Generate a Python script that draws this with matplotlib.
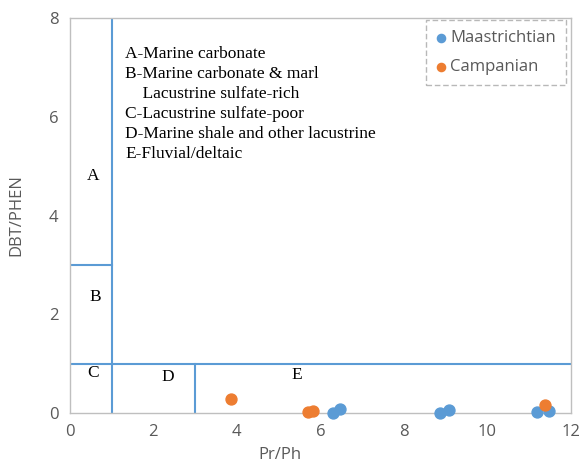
import numpy as np
import matplotlib.pyplot as plt

# data
maas_x = [6.31, 6.48, 8.86, 9.09, 11.18, 11.47]
maas_y = [0.01, 0.09, 0.00, 0.06, 0.02, 0.04]
camp_x = [3.85, 5.71, 5.83, 11.38]
camp_y = [0.28, 0.02, 0.04, 0.16]

zone_letters = ["A", "B", "C", "D", "E"]
zone_x = [0.55, 0.62, 0.55, 2.35, 5.43]
zone_y = [4.8, 2.35, 0.81, 0.73, 0.77]

notes = ("A-Marine carbonate\n"
         "B-Marine carbonate & marl\n"
         "    Lacustrine sulfate-rich\n"
         "C-Lacustrine sulfate-poor\n"
         "D-Marine shale and other lacustrine\n"
         "E-Fluvial/deltaic")

blue = "#5B9BD5"
orange = "#ED7D31"
grey = "#595959"

fig = plt.figure(figsize=(5.82, 4.62), dpi=100)
ax = fig.add_axes([0.120, 0.106, 0.861, 0.855])

# zone boundaries
ax.plot([1, 1], [0, 8], color=blue, lw=1.5, zorder=1)
ax.plot([0, 1], [3, 3], color=blue, lw=1.5, zorder=1)
ax.plot([0, 12], [1, 1], color=blue, lw=1.5, zorder=1)
ax.plot([3, 3], [0, 1], color=blue, lw=1.5, zorder=1)

for lab, xx, yy in zip(zone_letters, zone_x, zone_y):
    ax.text(xx, yy, lab, family="Liberation Serif", fontsize=12.5,
            ha="center", va="center", color="black")

ax.text(1.32, 7.43, notes, family="Liberation Serif", fontsize=12.5,
        ha="left", va="top", linespacing=1.33, color="black")

ax.scatter(maas_x, maas_y, s=62, color=blue, label="Maastrichtian", zorder=3, clip_on=False)
ax.scatter(camp_x, camp_y, s=62, color=orange, label="Campanian", zorder=3, clip_on=False)

ax.set_xlim(0, 12)
ax.set_ylim(0, 8)
ax.set_xticks(np.arange(0, 13, 2))
ax.set_yticks(np.arange(0, 9, 2))
ax.tick_params(length=0, labelsize=12, labelcolor=grey, pad=8)
for lbl in ax.get_xticklabels() + ax.get_yticklabels():
    lbl.set_family("Open Sans")
for sp in ax.spines.values():
    sp.set_color("#BFBFBF")
    sp.set_linewidth(1)

ax.set_xlabel("Pr/Ph", family="Open Sans", fontsize=12, color=grey)
ax.set_ylabel("DBT/PHEN", family="Open Sans", fontsize=12, color=grey)
ax.xaxis.set_label_coords(0.42, -0.085)
ax.yaxis.set_label_coords(-0.09, 0.5)

leg = ax.legend(loc="upper right", bbox_to_anchor=(0.990, 0.995), frameon=True,
                prop={"family": "Open Sans", "size": 12}, handletextpad=0.25,
                borderpad=0.6, labelspacing=0.8, handlelength=0.6, markerscale=0.75,
                fancybox=False, labelcolor=grey, borderaxespad=0)
fr = leg.get_frame()
fr.set_edgecolor("#A6A6A6")
fr.set_linestyle((0, (4, 2)))
fr.set_linewidth(1)

fig.savefig("out.png", dpi=100)
